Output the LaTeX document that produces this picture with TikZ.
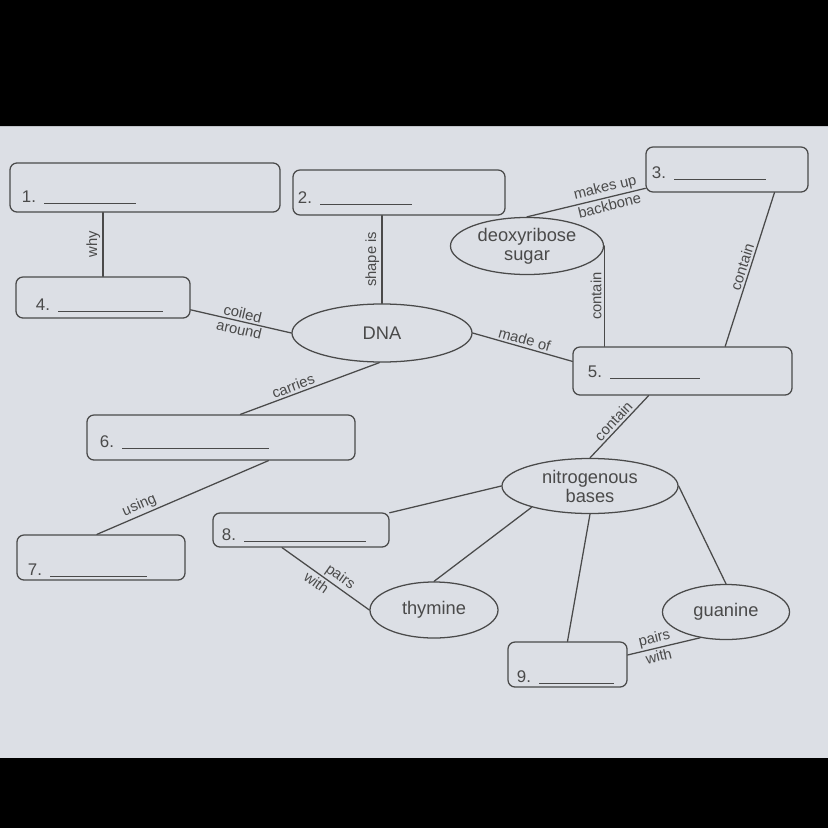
\documentclass[tikz,border=0pt]{standalone}
\usepackage{fontspec}
\setmainfont{Liberation Sans}
\usetikzlibrary{shapes.geometric}
\definecolor{paper}{HTML}{DCDFE5}
\definecolor{ink}{HTML}{4A4A4A}
\begin{document}
\begin{tikzpicture}[x=0.025cm, y=-0.025cm, line width=0.9pt, draw=ink, text=ink, line join=round, line cap=round,
  blankbox/.style n args={4}{draw, rounded corners=5pt, inner ysep=0pt, inner xsep=#2cm, text width=#1cm,
    text height=#3cm, text depth=#4cm, align=left, font=\fontsize{12}{14}\selectfont},
  oval/.style={draw, ellipse, inner sep=0pt, align=center, font=\fontsize{13}{13.5}\selectfont},
  lbl/.style={font=\fontsize{10.5}{11}\selectfont, sloped, inner sep=1.5pt}]
 \fill[paper] (0,0) rectangle (828,828);
 \fill[black] (0,0) rectangle (828,126) (0,758) rectangle (828,828);
 % blanks: number/centre/text width/xsep/height/depth/rule
 \foreach \n/\c/\w/\s/\h/\d/\u in {1/{145,187.5}/6.15/.3/.975/.25/2.3, 2/{399,192.5}/5.05/.125/.825/.3/2.3,
   3/{727,169.5}/3.75/.15/.775/.35/2.3, 4/{103,297.5}/3.35/.5/.825/.2/2.625, 5/{682.5,371}/4.725/.375/.75/.45/2.25,
   6/{221,437.5}/6.05/.325/.8/.325/3.675, 7/{101,557.5}/3.65/.275/1/.125/2.425, 8/{301,530}/3.95/.225/.675/.175/3.05,
   9/{567.5,664.5}/2.525/.225/1/.125/1.875}
   \node[blankbox={\w}{\s}{\h}{\d}] (b\n) at (\c) {\n.\hspace{.2cm}\rule[-1pt]{\u cm}{0.6pt}};
 \node[oval, minimum width=4.5cm, minimum height=1.45cm] (dna) at (382,333) {DNA};
 \node[oval, minimum width=3.825cm, minimum height=1.425cm] (sugar) at (527,246) {deoxyribose\\sugar};
 \node[oval, minimum width=4.4cm, minimum height=1.375cm] (bases) at (590,486) {nitrogenous\\bases};
 \node[oval, minimum width=3.2cm, minimum height=1.4cm] (thy) at (434,610) {thymine};
 \node[oval, minimum width=3.175cm, minimum height=1.375cm] (gua) at (726,612) {guanine};
 \draw (b4.north) -- node[lbl, above]{why} (b4.north |- b1.south);
 \draw (dna.north) -- node[lbl, above]{shape is} (dna.north |- b2.south);
 \draw (b4.-8) -- node[lbl, above]{coiled} node[lbl, below]{around} (dna.west);
 \draw (dna.east) -- node[lbl, above]{made of} (b5.175);
 \draw (sugar.north) -- node[lbl, above, pos=.68]{makes up} node[lbl, below, pos=.68]{backbone} (b3.193);
 \draw (b5.north -| sugar.east) -- node[lbl, above]{contain} (sugar.east);
 \draw (b5.30) -- node[lbl, above]{contain} (b3.-26);
 \draw (b6.50) -- node[lbl, above, pos=.4]{carries} (dna.265);
 \draw (b7.100) -- node[lbl, above, pos=.27]{using} (b6.-26);
 \draw (bases.north) -- node[lbl, above]{contain} (b5.216);
 \draw (bases.west) -- (b8.11);
 \draw (bases.200) -- (thy.north);
 \draw (bases.south) -- (b9.north);
 \draw (bases.east) -- (gua.north);
 \draw (b8.-137) -- node[lbl, above, pos=.6]{pairs} node[lbl, below, pos=.45]{with} (thy.west);
 \draw (b9.9) -- node[lbl, above, pos=.4]{pairs} node[lbl, below, pos=.4]{with} (gua.-135);
\end{tikzpicture}
\end{document}
